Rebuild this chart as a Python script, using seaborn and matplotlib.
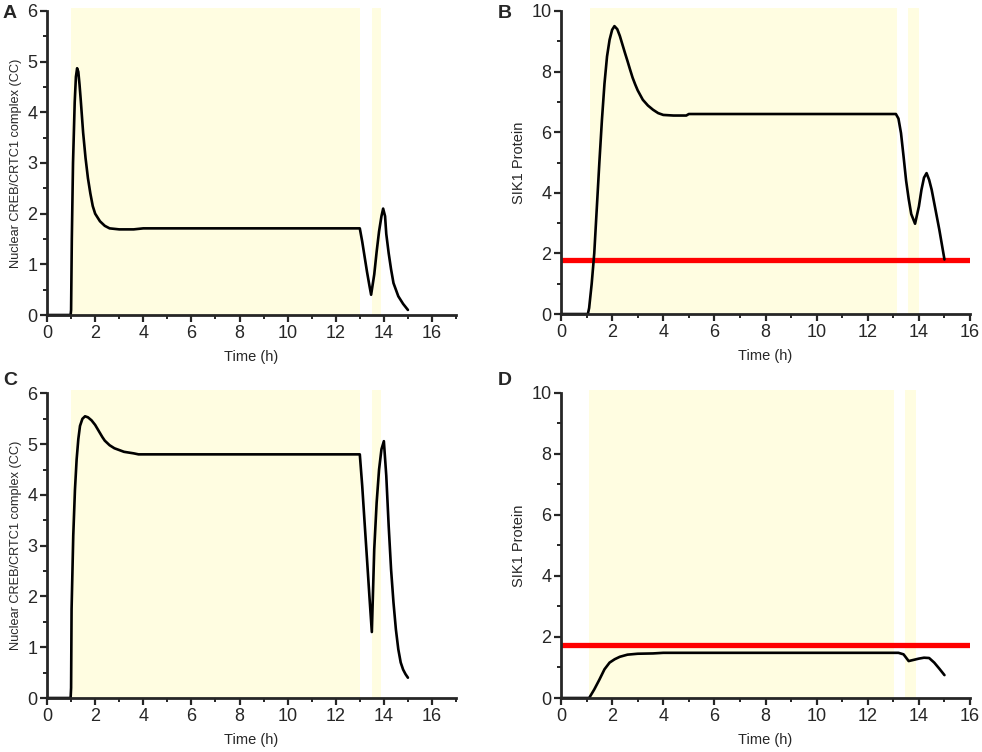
import numpy as np
import pandas as pd
import matplotlib
matplotlib.use("Agg")
import matplotlib.pyplot as plt
import seaborn as sns
from matplotlib.ticker import MultipleLocator

# curves (time in h)
t_a = [0, 0.98, 1.0, 1.03, 1.08, 1.15, 1.2, 1.25, 1.3, 1.35, 1.4, 1.5, 1.6, 1.7, 1.8, 1.9, 2.0,
       2.2, 2.4, 2.6, 3.0, 3.6, 4.0, 13.0, 13.1, 13.2, 13.3, 13.4, 13.47, 13.6, 13.7, 13.8,
       13.9, 13.97, 14.05, 14.1, 14.2, 14.3, 14.4, 14.6, 14.8, 15.0]
cc_a = [0, 0, 0.1, 1.5, 3.0, 4.2, 4.7, 4.87, 4.8, 4.55, 4.25, 3.6, 3.1, 2.7, 2.4, 2.15, 2.0,
        1.85, 1.76, 1.71, 1.69, 1.69, 1.71, 1.71, 1.45, 1.15, 0.85, 0.58, 0.4, 0.8, 1.25, 1.65,
        1.95, 2.1, 1.95, 1.6, 1.22, 0.9, 0.63, 0.37, 0.22, 0.1]

t_b = [0, 1.05, 1.1, 1.2, 1.3, 1.4, 1.5, 1.6, 1.7, 1.8, 1.9, 2.0, 2.09, 2.2, 2.3, 2.4, 2.5,
       2.6, 2.7, 2.8, 2.9, 3.0, 3.2, 3.4, 3.6, 3.8, 4.0, 4.4, 4.9, 5.0, 13.1, 13.2, 13.3, 13.4,
       13.5, 13.6, 13.7, 13.85, 14.0, 14.1, 14.2, 14.3, 14.4, 14.5, 14.6, 14.8, 15.0]
sik_b = [0, 0, 0.2, 1.0, 2.0, 3.5, 5.0, 6.4, 7.6, 8.5, 9.05, 9.38, 9.5, 9.4, 9.18, 8.9, 8.62,
         8.35, 8.07, 7.8, 7.58, 7.38, 7.07, 6.88, 6.74, 6.63, 6.57, 6.55, 6.55, 6.6, 6.6, 6.45,
         5.97, 5.2, 4.4, 3.8, 3.3, 2.98, 3.55, 4.1, 4.5, 4.65, 4.43, 4.1, 3.66, 2.78, 1.8]

t_c = [0, 0.98, 1.0, 1.02, 1.09, 1.16, 1.23, 1.3, 1.37, 1.47, 1.58, 1.7, 1.85, 2.0, 2.1, 2.2,
       2.3, 2.4, 2.6, 2.8, 3.2, 3.6, 3.8, 13.0, 13.1, 13.2, 13.3, 13.4, 13.5, 13.6, 13.7, 13.8,
       13.9, 14.0, 14.1, 14.2, 14.3, 14.4, 14.5, 14.6, 14.7, 14.8, 14.9, 15.0]
cc_c = [0, 0, 0.2, 1.75, 3.2, 4.1, 4.7, 5.1, 5.36, 5.5, 5.55, 5.53, 5.47, 5.38, 5.3, 5.22,
        5.14, 5.07, 4.98, 4.92, 4.85, 4.82, 4.8, 4.8, 4.18, 3.45, 2.73, 2.0, 1.3, 2.93, 3.85,
        4.5, 4.9, 5.06, 4.38, 3.39, 2.53, 1.88, 1.35, 0.96, 0.7, 0.56, 0.47, 0.4]

t_d = [0, 1.1, 1.3, 1.5, 1.7, 1.9, 2.1, 2.3, 2.6, 3.0, 3.6, 4.0, 13.2, 13.4, 13.6, 13.8,
       14.0, 14.2, 14.4, 14.6, 14.8, 15.0]
sik_d = [0, 0, 0.28, 0.6, 0.94, 1.16, 1.27, 1.35, 1.42, 1.45, 1.46, 1.48, 1.48, 1.43, 1.21,
         1.25, 1.29, 1.32, 1.31, 1.16, 0.96, 0.75]

# light periods (shaded)
bands_cc = [(1.0, 13.0), (13.5, 13.88)]
bands_sik_b = [(1.13, 13.13), (13.56, 14.0)]
bands_sik_d = [(1.08, 13.04), (13.47, 13.89)]

thr_b = 1.77
thr_d = 1.72

sns.set_style("ticks")
plt.rcParams['font.family'] = ['Liberation Sans', 'DejaVu Sans']

fig = plt.figure(figsize=(9.82, 7.52), dpi=100)

pos = {
    'A': [0.0479, 0.5811, 0.4165, 0.4043],
    'B': [0.5713, 0.5824, 0.4165, 0.4030],
    'C': [0.0479, 0.0718, 0.4165, 0.4050],
    'D': [0.5713, 0.0718, 0.4165, 0.4060],
}

panels = [
    ('A', t_a, cc_a, bands_cc, None, 17, 6, 'Nuclear CREB/CRTC1 complex (CC)', 9.2),
    ('B', t_b, sik_b, bands_sik_b, thr_b, 16, 10, 'SIK1 Protein', 10.5),
    ('C', t_c, cc_c, bands_cc, None, 17, 6, 'Nuclear CREB/CRTC1 complex (CC)', 9.2),
    ('D', t_d, sik_d, bands_sik_d, thr_d, 16, 10, 'SIK1 Protein', 10.5),
]

for name, t, y, bands, thr, xmax, ymax, ylab, yfs in panels:
    ax = fig.add_axes(pos[name])
    for lo, hi in bands:
        ax.axvspan(lo, hi, ymin=0, ymax=1.01, color='#fffde1', lw=0, zorder=0, clip_on=False)
    if thr is not None:
        ax.axhline(thr, color='#ff0000', lw=3.8, zorder=2)
    df = pd.DataFrame({'t': t, 'v': y})
    sns.lineplot(data=df, x='t', y='v', ax=ax, color='black', lw=1.9, sort=False,
                 zorder=3, clip_on=False)
    ax.set_xlim(0, xmax)
    ax.set_ylim(0, ymax)
    ax.xaxis.set_major_locator(MultipleLocator(2))
    ax.xaxis.set_minor_locator(MultipleLocator(1))
    if ymax == 6:
        ax.yaxis.set_major_locator(MultipleLocator(1))
        ax.yaxis.set_minor_locator(MultipleLocator(0.5))
    else:
        ax.yaxis.set_major_locator(MultipleLocator(2))
        ax.yaxis.set_minor_locator(MultipleLocator(1))
    ax.tick_params(which='major', direction='out', length=5, width=1.6, labelsize=13, pad=2)
    ax.tick_params(which='minor', direction='out', length=3, width=1.4)
    for s in ['top', 'right']:
        ax.spines[s].set_visible(False)
    for s in ['left', 'bottom']:
        ax.spines[s].set_linewidth(2)
        ax.spines[s].set_zorder(4)
    ax.set_facecolor('none')
    ax.set_xlabel('Time (h)', fontsize=10.5, labelpad=6)
    ax.set_ylabel(ylab, fontsize=yfs, labelpad=4)

fig.text(0.003, 0.993, 'A', fontsize=14, fontweight='bold', va='top', ha='left')
fig.text(0.507, 0.993, 'B', fontsize=14, fontweight='bold', va='top', ha='left')
fig.text(0.003, 0.505, 'C', fontsize=14, fontweight='bold', va='top', ha='left')
fig.text(0.507, 0.505, 'D', fontsize=14, fontweight='bold', va='top', ha='left')

fig.savefig('out.png', dpi=100)
